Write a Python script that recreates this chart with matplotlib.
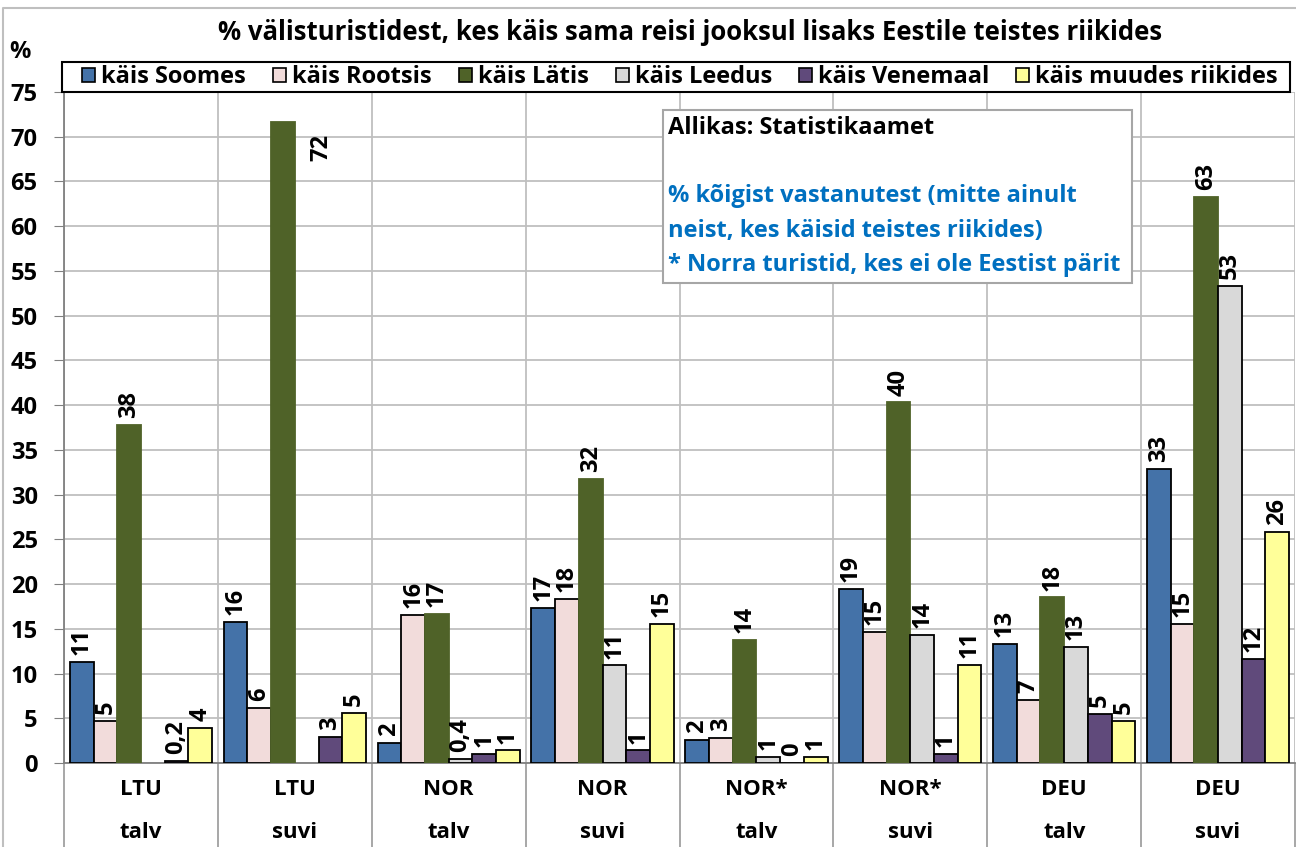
import numpy as np
import matplotlib
matplotlib.use("Agg")
import matplotlib.pyplot as plt
from matplotlib.patches import Rectangle
from matplotlib.lines import Line2D

plt.rcParams['font.family'] = ['Open Sans', 'DejaVu Sans']
plt.rcParams['font.weight'] = 'bold'

# andmed
riigid = ['LTU', 'LTU', 'NOR', 'NOR', 'NOR*', 'NOR*', 'DEU', 'DEU']
hooaeg = ['talv', 'suvi', 'talv', 'suvi', 'talv', 'suvi', 'talv', 'suvi']
seeriad = ['käis Soomes', 'käis Rootsis', 'käis Lätis', 'käis Leedus',
           'käis Venemaal', 'käis muudes riikides']
soomes = [11.3, 15.8, 2.2, 17.3, 2.6, 19.4, 13.3, 32.9]
rootsis = [4.7, 6.1, 16.5, 18.3, 2.8, 14.6, 7.0, 15.5]
latis = [37.8, 71.6, 16.7, 31.7, 13.7, 40.3, 18.5, 63.3]
leedus = [np.nan, np.nan, 0.5, 10.9, 0.7, 14.3, 13.0, 53.3]
venemaal = [0.2, 2.9, 1.0, 1.4, 0.0, 1.0, 5.5, 11.6]
muudes = [3.9, 5.6, 1.4, 15.5, 0.7, 11.0, 4.7, 25.8]
# sildid nagu originaalis
sildid = [
    ['11', '16', '2', '17', '2', '19', '13', '33'],
    ['5', '6', '16', '18', '3', '15', '7', '15'],
    ['38', '72', '17', '32', '14', '40', '18', '63'],
    ['', '', '0,4', '11', '1', '14', '13', '53'],
    ['0,2', '3', '1', '1', '0', '1', '5', '12'],
    ['4', '5', '1', '15', '1', '11', '5', '26'],
]
vaartused = [soomes, rootsis, latis, leedus, venemaal, muudes]
varvid = ['#4472A8', '#F2DCDB', '#4F6228', '#D9D9D9', '#604A7B', '#FFFF99']
servad = ['black', 'black', '#4F6228', 'black', 'black', 'black']

fs = 17

fig = plt.figure(figsize=(12.96, 8.47), dpi=100)
ax = fig.add_axes([64/1296, 84/847, 1231/1296, 671/847])

x = np.arange(len(riigid))
w = 0.154
for j, (v, c, e) in enumerate(zip(vaartused, varvid, servad)):
    xs = x + (j - 2.5) * w
    ax.bar(xs, v, width=w, color=c, edgecolor=e, linewidth=1.3, label=seeriad[j], zorder=3)
    for i in range(len(x)):
        if sildid[j][i] == '':
            continue
        if v[i] > 70:
            ax.text(xs[i] + 0.25, 70.3, sildid[j][i], rotation=90, ha='center', va='top',
                    fontsize=fs, fontweight='bold', zorder=4)
        else:
            ax.annotate(sildid[j][i], (xs[i], v[i]), xytext=(0, 5), textcoords='offset points',
                        rotation=90, ha='center', va='bottom', fontsize=fs, fontweight='bold', zorder=4)

ax.set_xlim(-0.5, 7.5)
ax.set_ylim(0, 75)
ax.set_yticks(np.arange(0, 76, 5))
ax.tick_params(axis='y', labelsize=fs, length=7, color='#808080', pad=12)
for t in ax.get_yticklabels():
    t.set_fontweight('bold')
ax.set_xticks(np.arange(-0.5, 8, 1))
ax.set_xticklabels([])
ax.tick_params(axis='x', length=62, width=1.3, color='#A0A0A0', direction='out')
ax.grid(True, color='#BFBFBF', linewidth=1.3, zorder=0)
ax.set_axisbelow(True)
for s in ['top', 'right']:
    ax.spines[s].set_visible(False)
ax.spines['left'].set_color('#808080')
ax.spines['bottom'].set_color('#808080')
ax.spines['left'].set_linewidth(1.3)
ax.spines['bottom'].set_linewidth(1.3)

tr = ax.get_xaxis_transform()
for i in range(len(x)):
    ax.text(x[i], -0.040, riigid[i], transform=tr, ha='center', va='center', fontsize=16, fontweight='bold')
    ax.text(x[i], -0.103, hooaeg[i], transform=tr, ha='center', va='center', fontsize=16, fontweight='bold')

fig.text(690/1296, 1 - 33/847, '% välisturistidest, kes käis sama reisi jooksul lisaks Eestile teistes riikides',
         ha='center', va='center', fontsize=18.5, fontweight='bold')
fig.text(20/1296, 1 - 52/847, '%', ha='center', va='center', fontsize=fs, fontweight='bold')

# legendi raam eraldi, et see ulatuks üle kogu laiuse
fig.patches.append(Rectangle((62/1296, 1 - 92/847), 1228/1296, 30/847, transform=fig.transFigure,
                             facecolor='white', edgecolor='black', linewidth=1.5, zorder=5))
leg = fig.legend(loc='center', bbox_to_anchor=(680/1296, 1 - 77/847),
                 ncol=6, fontsize=fs, frameon=False,
                 handlelength=0.55, handleheight=0.55, handletextpad=0.25, borderpad=0,
                 borderaxespad=0, columnspacing=1.15)
leg.set_zorder(6)
for h in leg.legend_handles:
    h.set_edgecolor('black')
    h.set_linewidth(1.2)

# infokast
fig.patches.append(Rectangle((663/1296, 1 - 283/847), 469/1296, 173/847, transform=fig.transFigure,
                             facecolor='white', edgecolor='#A6A6A6', linewidth=1.5, zorder=5))
fig.text(668/1296, 1 - 128/847, 'Allikas: Statistikaamet', ha='left', va='center',
         fontsize=fs, fontweight='bold', color='black', zorder=6)
for k, rida in enumerate(['% kõigist vastanutest (mitte ainult',
                          'neist, kes käisid teistes riikides)',
                          '* Norra turistid, kes ei ole Eestist pärit']):
    fig.text(668/1296, 1 - (196 + 34.5*k)/847, rida, ha='left', va='center',
             fontsize=fs, fontweight='bold', color='#0070C0', zorder=6)

# välimine raam
fig.lines.append(Line2D([3/1296, 3/1296, 1.0], [0, 1 - 8/847, 1 - 8/847], transform=fig.transFigure,
                        color='#BFBFBF', linewidth=1.5))

fig.savefig('out.png', dpi=100)
